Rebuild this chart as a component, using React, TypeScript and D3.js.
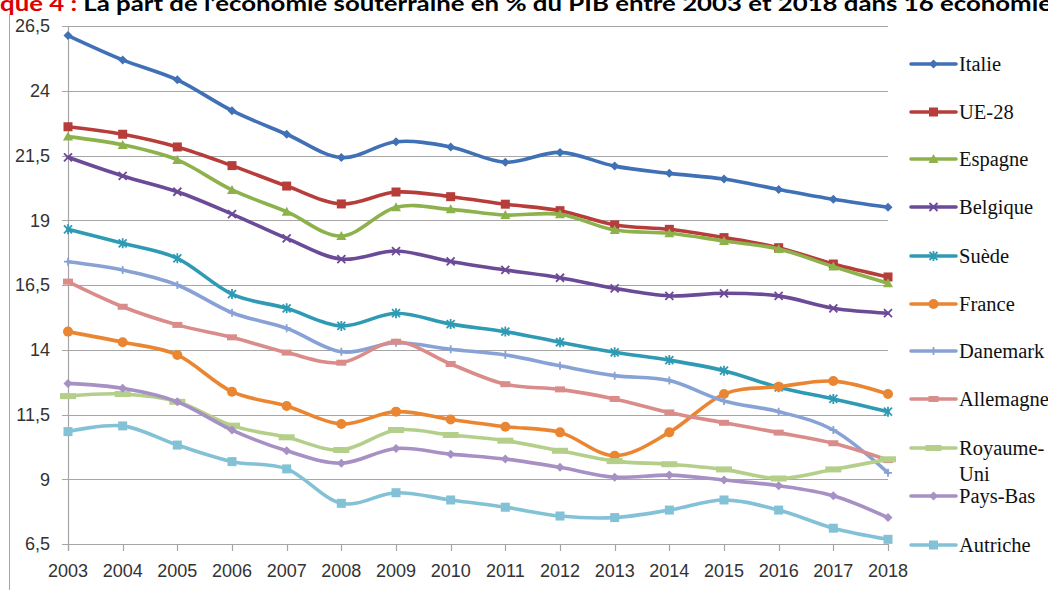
import React from "react";
import * as d3 from "d3";

const YEARS = [2003, 2004, 2005, 2006, 2007, 2008, 2009, 2010, 2011, 2012, 2013, 2014, 2015, 2016, 2017, 2018];
const Y_TICKS = [6.5, 9, 11.5, 14, 16.5, 19, 21.5, 24, 26.5];

const italie = [26.13, 25.19, 24.42, 23.23, 22.32, 21.42, 22.03, 21.83, 21.24, 21.62, 21.09, 20.81, 20.59, 20.19, 19.81, 19.5];
const ue28 = [22.61, 22.32, 21.83, 21.11, 20.32, 19.63, 20.09, 19.91, 19.62, 19.37, 18.82, 18.65, 18.33, 17.94, 17.31, 16.81];
const espagne = [22.23, 21.91, 21.33, 20.17, 19.33, 18.39, 19.5, 19.42, 19.2, 19.23, 18.62, 18.5, 18.2, 17.89, 17.21, 16.57];
const belgique = [21.43, 20.71, 20.1, 19.24, 18.3, 17.5, 17.81, 17.41, 17.08, 16.78, 16.37, 16.08, 16.18, 16.08, 15.6, 15.41];
const suede = [18.65, 18.11, 17.53, 16.15, 15.6, 14.92, 15.41, 14.99, 14.7, 14.29, 13.9, 13.6, 13.19, 12.55, 12.1, 11.61];
const france = [14.7, 14.29, 13.8, 12.38, 11.83, 11.13, 11.61, 11.31, 11.03, 10.81, 9.91, 10.81, 12.29, 12.57, 12.79, 12.29];
const danemark = [17.4, 17.08, 16.5, 15.43, 14.83, 13.92, 14.27, 14.02, 13.8, 13.38, 13.0, 12.81, 12.02, 11.61, 10.9, 9.25];
const allemagne = [16.63, 15.66, 14.96, 14.48, 13.89, 13.5, 14.31, 13.45, 12.67, 12.47, 12.1, 11.58, 11.18, 10.8, 10.39, 9.74];
const royaumeUni = [12.21, 12.29, 11.99, 11.07, 10.62, 10.13, 10.9, 10.71, 10.49, 10.1, 9.7, 9.58, 9.38, 9.03, 9.38, 9.77];
const paysBas = [12.7, 12.51, 11.99, 10.9, 10.1, 9.62, 10.19, 9.97, 9.78, 9.46, 9.08, 9.16, 8.97, 8.75, 8.36, 7.52];
const autriche = [10.84, 11.06, 10.32, 9.68, 9.4, 8.07, 8.48, 8.2, 7.92, 7.58, 7.52, 7.81, 8.2, 7.81, 7.11, 6.68];

const SERIES_NAMES = ["Italie", "UE-28", "Espagne", "Belgique", "Suède", "France", "Danemark", "Allemagne", "Royaume-Uni", "Pays-Bas", "Autriche"];
const SERIES_VALUES = [italie, ue28, espagne, belgique, suede, france, danemark, allemagne, royaumeUni, paysBas, autriche];
const COLORS = ["#4070B5", "#B73D3A", "#8DB24C", "#6B4A97", "#2F9AB4", "#EA8632", "#88A2D6", "#D98C8A", "#B3CF8A", "#A690C4", "#83C2D6"];
const MARKERS = ["diamond", "square", "triangle", "x", "star", "circle", "plus", "dash", "longdash", "diamond", "square"];

const TITLE_RED = "que 4 : ";
const TITLE_BLACK = "La part de l\u2019économie souterraine en % du PIB entre 2003 et 2018 dans 16 économie";

function Marker({ type, x, y, color }: { type: string; x: number; y: number; color: string }) {
  const s = 4.5;
  switch (type) {
    case "diamond":
      return <path d={`M${x},${y - s}L${x + s},${y}L${x},${y + s}L${x - s},${y}Z`} fill={color} />;
    case "square":
      return <rect x={x - 4.5} y={y - 4.5} width={9} height={9} fill={color} />;
    case "triangle":
      return <path d={`M${x},${y - 5}L${x + 5},${y + 4}L${x - 5},${y + 4}Z`} fill={color} />;
    case "x":
      return <path d={`M${x - 4},${y - 4}L${x + 4},${y + 4}M${x - 4},${y + 4}L${x + 4},${y - 4}`} stroke={color} strokeWidth={1.8} />;
    case "star":
      return <path d={`M${x - 4},${y - 4}L${x + 4},${y + 4}M${x - 4},${y + 4}L${x + 4},${y - 4}M${x},${y - 5}L${x},${y + 5}`} stroke={color} strokeWidth={1.8} />;
    case "circle":
      return <circle cx={x} cy={y} r={5} fill={color} />;
    case "plus":
      return <path d={`M${x - 4},${y}L${x + 4},${y}M${x},${y - 4}L${x},${y + 4}`} stroke={color} strokeWidth={1.8} />;
    case "dash":
      return <rect x={x - 5} y={y - 3} width={10} height={6} fill={color} />;
    case "longdash":
      return <rect x={x - 8} y={y - 3} width={16} height={6} fill={color} />;
    default:
      return null;
  }
}

export default function App() {
  const width = 1048;
  const height = 590;
  const x = d3.scaleLinear().domain([2003, 2018]).range([68, 888]);
  const y = d3.scaleLinear().domain([6.5, 26.5]).range([544, 26]);
  const line = d3
    .line<number>()
    .x((_, i) => x(YEARS[i]))
    .y((d) => y(d))
    .curve(d3.curveCardinal.tension(0));

  const legendY = [64, 112, 159, 207, 256, 304, 351, 399, 448, 496, 545];
  const fmt = (v: number) => String(v).replace(".", ",");

  return (
    <svg
      width={width}
      height={height}
      style={{ position: "absolute", left: 0, top: 0, background: "#fff" }}
      xmlns="http://www.w3.org/2000/svg"
    >
      <rect x={0} y={0} width={width} height={height} fill="#fff" />
      {/* title (partially cut at top, as in the reference) */}
      <text
        x={0}
        y={11}
        fontFamily="Lato, Liberation Sans, Arial, sans-serif"
        fontWeight="bold"
        fontSize={21}
        textLength={1052}
        lengthAdjust="spacingAndGlyphs"
      >
        <tspan fill="#e00000">{TITLE_RED}</tspan>
        <tspan fill="#000">{TITLE_BLACK}</tspan>
      </text>
      {/* frame left border */}
      <line x1={9.5} x2={9.5} y1={14} y2={590} stroke="#a6a6a6" strokeWidth={1} />

      {/* gridlines and y ticks */}
      {Y_TICKS.map((t) => (
        <g key={t}>
          <line x1={62} x2={888} y1={Math.round(y(t)) + 0.5} y2={Math.round(y(t)) + 0.5} stroke="#a6a6a6" strokeWidth={1.2} />
          <text
            x={50}
            y={y(t)}
            dy="0.36em"
            textAnchor="end"
            fontFamily="Liberation Sans, Arial, sans-serif"
            fontSize={18}
            fill="#333"
          >
            {fmt(t)}
          </text>
        </g>
      ))}
      {/* y axis line */}
      <line x1={68.5} x2={68.5} y1={y(26.5)} y2={551} stroke="#a6a6a6" strokeWidth={1.2} />
      {/* x ticks */}
      {YEARS.map((yr) => (
        <g key={yr}>
          <line x1={Math.round(x(yr)) + 0.5} x2={Math.round(x(yr)) + 0.5} y1={544} y2={551} stroke="#a6a6a6" strokeWidth={1.2} />
          <text
            x={x(yr)}
            y={577}
            textAnchor="middle"
            fontFamily="Liberation Sans, Arial, sans-serif"
            fontSize={18}
            fill="#333"
          >
            {yr}
          </text>
        </g>
      ))}

      {/* series */}
      {SERIES_VALUES.map((vals, si) => (
        <g key={SERIES_NAMES[si]}>
          <path d={line(vals) || ""} fill="none" stroke={COLORS[si]} strokeWidth={3.6} strokeLinejoin="round" strokeLinecap="round" />
          {vals.map((v, i) => (
            <Marker key={i} type={MARKERS[si]} x={x(YEARS[i])} y={y(v)} color={COLORS[si]} />
          ))}
        </g>
      ))}

      {/* legend */}
      {SERIES_NAMES.map((name, si) => {
        const ly = legendY[si];
        const isRU = name === "Royaume-Uni";
        return (
          <g key={name}>
            <line x1={911} x2={956} y1={ly} y2={ly} stroke={COLORS[si]} strokeWidth={3.6} strokeLinecap="round" />
            <Marker type={MARKERS[si]} x={933.5} y={ly} color={COLORS[si]} />
            {isRU ? (
              <text x={959} y={ly} dy="0.33em" fontFamily="Liberation Serif, Times New Roman, serif" fontSize={20.5} fill="#111">
                <tspan x={959}>Royaume-</tspan>
                <tspan x={959} dy={26}>Uni</tspan>
              </text>
            ) : (
              <text x={959} y={ly} dy="0.33em" fontFamily="Liberation Serif, Times New Roman, serif" fontSize={20.5} fill="#111">
                {name}
              </text>
            )}
          </g>
        );
      })}
    </svg>
  );
}
